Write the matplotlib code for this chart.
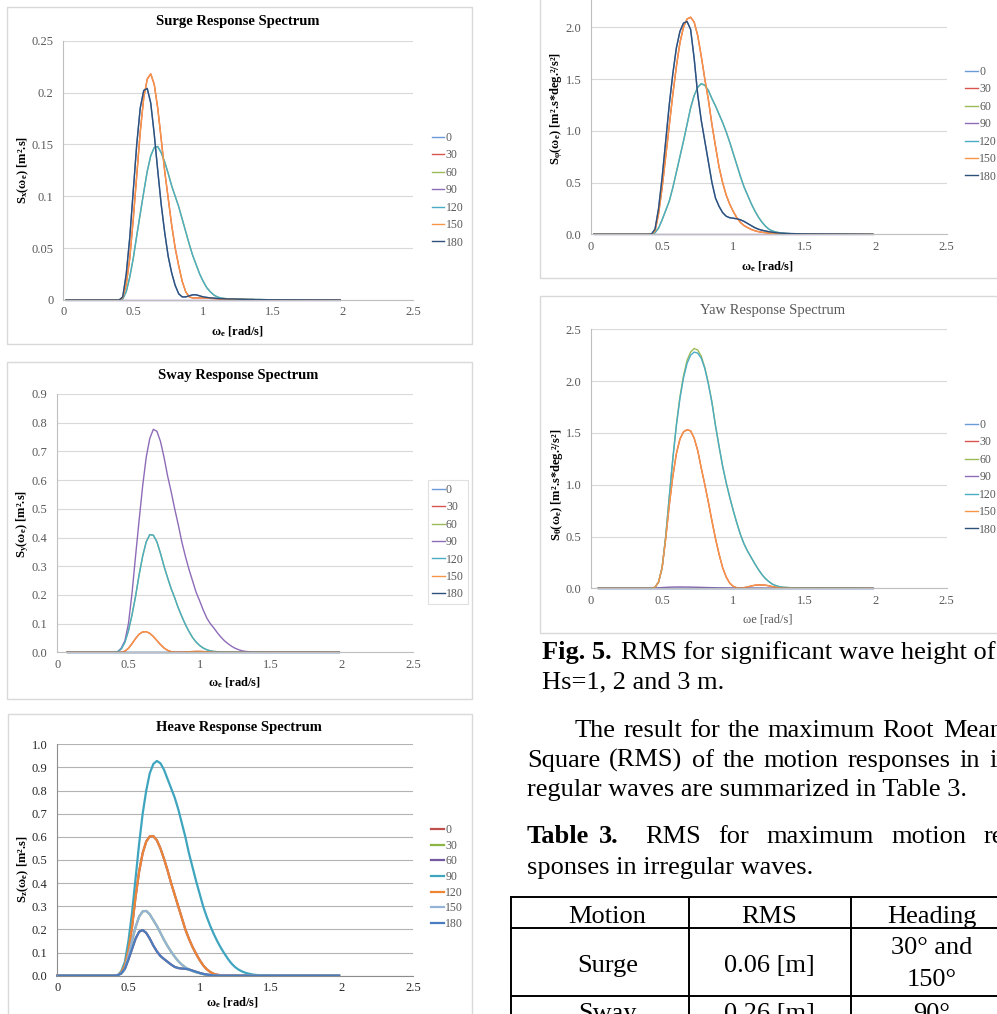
import numpy as np
import matplotlib
matplotlib.use("Agg")
import matplotlib.pyplot as plt
from matplotlib.patches import Rectangle
from matplotlib.lines import Line2D

plt.rcParams["font.family"] = ["Liberation Serif", "DejaVu Serif"]
plt.rcParams["mathtext.fontset"] = "custom"
plt.rcParams["mathtext.rm"] = "Liberation Serif"
plt.rcParams["mathtext.it"] = "Liberation Serif:italic"
plt.rcParams["mathtext.bf"] = "Liberation Serif:bold"

FIG_W, FIG_H = 997, 1014

HEADINGS = ["0", "30", "60", "90", "120", "150", "180"]
X_TICKS = [0, 0.5, 1, 1.5, 2, 2.5]
X_TICK_LABELS = ["0", "0.5", "1", "1.5", "2", "2.5"]

OMEGA = [round(v, 3) for v in np.arange(0.40, 1.401, 0.025)] + [1.5]
OMEGA_END = 1.98
ZERO = [0.0] * len(OMEGA)

# ---- surge [m^2.s]
SURGE_HEAD = [0, 0.003, 0.025, 0.06, 0.105, 0.15, 0.185, 0.202, 0.204, 0.19,
              0.16, 0.125, 0.092, 0.065, 0.042, 0.026, 0.014, 0.006, 0.003, 0.003,
              0.004, 0.005, 0.005, 0.004, 0.003, 0.0025, 0.002, 0.0018, 0.0015, 0.0013,
              0.0012, 0.001, 0.001, 0.0009, 0.0008, 0.0007, 0.0006, 0.0005, 0.0005, 0.0004,
              0.0004, 0.0002]
SURGE_QUARTER = [0, 0.002, 0.015, 0.04, 0.078, 0.12, 0.162, 0.195, 0.213, 0.218,
                 0.208, 0.185, 0.155, 0.124, 0.098, 0.072, 0.05, 0.033, 0.018, 0.008,
                 0.003, 0.002, 0.002, 0.002, 0.002, 0.0018, 0.0016, 0.0014, 0.0012, 0.001,
                 0.001, 0.0009, 0.0008, 0.0007, 0.0006, 0.0005, 0.0005, 0.0004, 0.0004, 0.0003,
                 0.0003, 0.0002]
SURGE_BOW = [0, 0.001, 0.008, 0.022, 0.04, 0.062, 0.083, 0.104, 0.124, 0.139,
             0.147, 0.148, 0.142, 0.133, 0.122, 0.11, 0.1, 0.09, 0.078, 0.066,
             0.054, 0.043, 0.034, 0.025, 0.018, 0.012, 0.008, 0.005, 0.003, 0.002,
             0.0015, 0.0012, 0.001, 0.0009, 0.0008, 0.0007, 0.0006, 0.0005, 0.0005, 0.0004,
             0.0004, 0.0002]

# ---- sway [m^2.s]
SWAY_BEAM = [0, 0.002, 0.015, 0.04, 0.1, 0.205, 0.335, 0.46, 0.58, 0.68,
             0.745, 0.777, 0.77, 0.735, 0.68, 0.615, 0.56, 0.5, 0.445, 0.385,
             0.335, 0.29, 0.25, 0.21, 0.18, 0.148, 0.12, 0.1, 0.085, 0.068,
             0.053, 0.04, 0.03, 0.021, 0.014, 0.009, 0.005, 0.003, 0.002, 0.001,
             0.0008, 0.0003]
SWAY_BOW = [0, 0.002, 0.012, 0.035, 0.075, 0.13, 0.195, 0.27, 0.335, 0.385,
            0.41, 0.408, 0.385, 0.345, 0.3, 0.26, 0.222, 0.19, 0.155, 0.125,
            0.097, 0.073, 0.052, 0.036, 0.024, 0.015, 0.009, 0.005, 0.003, 0.002,
            0.001, 0.0008, 0.0005, 0.0004, 0.0003, 0.0003, 0.0002, 0.0002, 0.0001, 0.0001,
            0.0001, 0]
SWAY_QUARTER = [0, 0, 0, 0.004, 0.014, 0.03, 0.048, 0.063, 0.071, 0.072,
                0.066, 0.055, 0.041, 0.027, 0.015, 0.007, 0.002, 0.0005, 0.0003, 0.0005,
                0.001, 0.002, 0.0025, 0.003, 0.003, 0.0025, 0.002, 0.0012, 0.0006, 0.0003,
                0, 0, 0, 0, 0, 0, 0, 0, 0, 0,
                0, 0]

# ---- heave [m^2.s]
HEAVE_BEAM = [0, 0.002, 0.02, 0.06, 0.15, 0.27, 0.42, 0.57, 0.70, 0.80,
              0.875, 0.915, 0.928, 0.918, 0.89, 0.85, 0.81, 0.77, 0.72, 0.66,
              0.60, 0.53, 0.47, 0.41, 0.355, 0.30, 0.255, 0.215, 0.18, 0.148,
              0.12, 0.095, 0.072, 0.052, 0.037, 0.026, 0.018, 0.012, 0.008, 0.005,
              0.003, 0.001]
HEAVE_60 = [0, 0.002, 0.015, 0.045, 0.11, 0.21, 0.34, 0.45, 0.53, 0.58,
            0.602, 0.603, 0.585, 0.55, 0.505, 0.455, 0.40, 0.35, 0.30, 0.25,
            0.20, 0.16, 0.125, 0.095, 0.068, 0.045, 0.028, 0.016, 0.008, 0.004,
            0.002, 0.001, 0.0008, 0.0005, 0.0003, 0.0002, 0.0002, 0.0001, 0.0001, 0,
            0, 0]
HEAVE_30 = [0, 0.002, 0.01, 0.03, 0.085, 0.15, 0.21, 0.255, 0.278, 0.28,
            0.265, 0.24, 0.215, 0.185, 0.155, 0.128, 0.104, 0.082, 0.063, 0.048,
            0.036, 0.027, 0.02, 0.015, 0.011, 0.007, 0.004, 0.002, 0.001, 0.0005,
            0.0003, 0.0002, 0.0001, 0, 0, 0, 0, 0, 0, 0,
            0, 0]
HEAVE_HEAD = [0, 0.002, 0.01, 0.03, 0.07, 0.115, 0.16, 0.19, 0.197, 0.185,
              0.16, 0.13, 0.105, 0.085, 0.072, 0.06, 0.048, 0.038, 0.033, 0.031,
              0.03, 0.027, 0.022, 0.017, 0.012, 0.008, 0.005, 0.003, 0.001, 0.0005,
              0.0003, 0.0002, 0.0001, 0, 0, 0, 0, 0, 0, 0,
              0, 0]

# ---- roll [m^2.s*deg^2/s^2]
ROLL_HEAD = [0, 0.002, 0.05, 0.25, 0.55, 0.9, 1.25, 1.55, 1.8, 1.96,
             2.04, 2.056, 1.98, 1.7, 1.35, 1.1, 0.9, 0.7, 0.5, 0.35,
             0.27, 0.21, 0.175, 0.16, 0.155, 0.15, 0.14, 0.125, 0.105, 0.085,
             0.065, 0.05, 0.04, 0.032, 0.025, 0.02, 0.015, 0.012, 0.01, 0.008,
             0.007, 0.004]
ROLL_QUARTER = [0, 0.002, 0.03, 0.2, 0.45, 0.75, 1.05, 1.35, 1.62, 1.85,
                2.0, 2.08, 2.097, 2.05, 1.92, 1.72, 1.5, 1.3, 1.06, 0.85,
                0.65, 0.5, 0.38, 0.29, 0.22, 0.16, 0.115, 0.085, 0.065, 0.048,
                0.035, 0.026, 0.02, 0.016, 0.012, 0.01, 0.008, 0.006, 0.005, 0.004,
                0.003, 0.002]
ROLL_BOW = [0, 0.002, 0.015, 0.06, 0.14, 0.23, 0.32, 0.45, 0.6, 0.75,
            0.9, 1.06, 1.22, 1.34, 1.42, 1.455, 1.44, 1.39, 1.31, 1.24,
            1.16, 1.08, 0.99, 0.89, 0.78, 0.67, 0.56, 0.46, 0.38, 0.3,
            0.23, 0.17, 0.12, 0.08, 0.05, 0.032, 0.022, 0.015, 0.01, 0.008,
            0.006, 0.003]

# ---- yaw [m^2.s*deg^2/s^2]
YAW_60 = [0, 0, 0.01, 0.06, 0.2, 0.5, 0.88, 1.25, 1.58, 1.85,
          2.05, 2.2, 2.28, 2.315, 2.3, 2.24, 2.13, 1.98, 1.8, 1.57,
          1.37, 1.18, 1.02, 0.88, 0.75, 0.63, 0.52, 0.43, 0.36, 0.3,
          0.24, 0.185, 0.135, 0.095, 0.065, 0.04, 0.025, 0.015, 0.01, 0.008,
          0.006, 0.004]
YAW_120 = [0, 0, 0.01, 0.06, 0.2, 0.5, 0.88, 1.25, 1.57, 1.83,
           2.03, 2.17, 2.25, 2.28, 2.27, 2.22, 2.12, 1.97, 1.79, 1.57,
           1.37, 1.18, 1.02, 0.88, 0.75, 0.63, 0.52, 0.43, 0.36, 0.3,
           0.24, 0.185, 0.135, 0.095, 0.065, 0.04, 0.025, 0.015, 0.01, 0.008,
           0.006, 0.004]
YAW_QUARTER = [0, 0, 0.01, 0.06, 0.2, 0.48, 0.8, 1.08, 1.3, 1.44,
               1.51, 1.53, 1.52, 1.45, 1.33, 1.16, 1.0, 0.83, 0.65, 0.48,
               0.33, 0.2, 0.11, 0.05, 0.018, 0.005, 0.003, 0.006, 0.013, 0.022,
               0.029, 0.032, 0.032, 0.03, 0.024, 0.016, 0.01, 0.005, 0.003, 0.002,
               0.002, 0.001]
YAW_BEAM = [0, 0.001, 0.003, 0.005, 0.007, 0.009, 0.011, 0.012, 0.013, 0.013,
            0.013, 0.012, 0.012, 0.011, 0.01, 0.009, 0.008, 0.007, 0.006, 0.005,
            0.004, 0.004, 0.003, 0.003, 0.002, 0.002, 0.002, 0.001, 0.001, 0.001,
            0.001, 0.001, 0.001, 0, 0, 0, 0, 0, 0, 0,
            0, 0]

SURGE = {"0": SURGE_HEAD, "30": SURGE_QUARTER, "60": SURGE_BOW, "90": ZERO,
         "120": SURGE_BOW, "150": SURGE_QUARTER, "180": SURGE_HEAD}
SWAY = {"0": ZERO, "30": SWAY_QUARTER, "60": SWAY_BOW, "90": SWAY_BEAM,
        "120": SWAY_BOW, "150": SWAY_QUARTER, "180": ZERO}
HEAVE = {"0": HEAVE_HEAD, "30": HEAVE_30, "60": HEAVE_60, "90": HEAVE_BEAM,
         "120": HEAVE_60, "150": HEAVE_30, "180": HEAVE_HEAD}
ROLL = {"0": ROLL_HEAD, "30": ROLL_QUARTER, "60": ROLL_BOW, "90": ZERO,
        "120": ROLL_BOW, "150": ROLL_QUARTER, "180": ROLL_HEAD}
YAW = {"0": ZERO, "30": YAW_QUARTER, "60": YAW_60, "90": YAW_BEAM,
       "120": YAW_120, "150": YAW_QUARTER, "180": ZERO}

COLORS = {"0": "#6A9BD8", "30": "#D9534F", "60": "#9BBB59", "90": "#8E6BB8",
          "120": "#4BACC6", "150": "#F79646", "180": "#2E4F7A"}
HEAVE_COLORS = {"0": "#C0504D", "30": "#8DB543", "60": "#7458A0", "90": "#3FA5BF",
                "120": "#EE8535", "150": "#95B3D7", "180": "#4A7CC0"}

GRAY = "#595959"


def px_rect(left, top, right, bottom):
    return [left / FIG_W, 1 - bottom / FIG_H, (right - left) / FIG_W, (bottom - top) / FIG_H]


def ptext(fig, x, y, s, **kw):
    return fig.text(x / FIG_W, 1 - y / FIG_H, s, **kw)


def add_frame(fig, left, top, right, bottom):
    fig.add_artist(Rectangle((left / FIG_W, 1 - bottom / FIG_H),
                             (right - left) / FIG_W, (bottom - top) / FIG_H,
                             transform=fig.transFigure, fill=False,
                             ec="#D9D9D9", lw=1.0))


def hline(fig, x0, x1, y, lw=1.4):
    fig.add_artist(Line2D([x0 / FIG_W, x1 / FIG_W], [1 - y / FIG_H, 1 - y / FIG_H],
                          transform=fig.transFigure, color="black", lw=lw))


def vline(fig, x, y0, y1, lw=1.4):
    fig.add_artist(Line2D([x / FIG_W, x / FIG_W], [1 - y0 / FIG_H, 1 - y1 / FIG_H],
                          transform=fig.transFigure, color="black", lw=lw))


def draw_spectrum(fig, rect, curves, colors, start, ymax, ystep, yfmt,
                  lw=1.0, grid="#D9D9D9", spine="#BFBFBF", tick_color=GRAY):
    ax = fig.add_axes(rect)
    handles = []
    for h in HEADINGS:
        x = [start] + OMEGA + [OMEGA_END]
        y = [0.0] + list(curves[h]) + [0.0]
        (line,) = ax.plot(x, y, color=colors[h], lw=lw, clip_on=False,
                          solid_joinstyle="round")
        handles.append(line)
    ax.set_xlim(0, 2.5)
    ax.set_ylim(0, ymax)
    ax.set_xticks(X_TICKS)
    ax.set_xticklabels(X_TICK_LABELS)
    yt = np.round(np.arange(0, ymax + 1e-9, ystep), 3)
    ax.set_yticks(yt)
    ax.set_yticklabels([yfmt(v) for v in yt])
    ax.grid(axis="y", color=grid, lw=0.8)
    ax.set_axisbelow(True)
    for s in ("top", "right"):
        ax.spines[s].set_visible(False)
    for s in ("left", "bottom"):
        ax.spines[s].set_color(spine)
        ax.spines[s].set_linewidth(0.8)
    ax.tick_params(length=0, labelsize=9, labelcolor=tick_color)
    ax.tick_params(axis="y", pad=7)
    ax.tick_params(axis="x", pad=4.5)
    return ax, handles


def add_legend(fig, ax, handles, x, y, spacing, frame=False):
    leg = ax.legend(handles, HEADINGS, loc="upper left",
                    bbox_to_anchor=(x / FIG_W, 1 - y / FIG_H),
                    bbox_transform=fig.transFigure, frameon=frame, fontsize=8.5,
                    labelcolor=GRAY, handlelength=1.1, handletextpad=0.12,
                    labelspacing=spacing, borderaxespad=0,
                    borderpad=0.33 if frame else 0, fancybox=False)
    if frame:
        leg.get_frame().set_edgecolor("#D9D9D9")
        leg.get_frame().set_linewidth(0.8)
    return leg


def fmt_general(v):
    return f"{v:g}"


def fmt_one(v):
    return f"{v:.1f}"


fig = plt.figure(figsize=(FIG_W / 100, FIG_H / 100), dpi=100)

# chart frames
add_frame(fig, 7, 7, 472, 344)
add_frame(fig, 7, 362, 472, 699)
add_frame(fig, 8, 714, 472, 1030)
add_frame(fig, 540, -20, 1020, 278)
add_frame(fig, 540, 296, 1020, 633)

label_kw = dict(fontsize=9, fontweight="bold", ha="center", va="center")
xlab = r"$\mathbf{\omega_e}$ [rad/s]"

# surge
ax, hs = draw_spectrum(fig, px_rect(63.3, 40.7, 413, 300), SURGE, COLORS, 0.02,
                       0.25, 0.05, fmt_general)
add_legend(fig, ax, hs, 431.5, 132, 0.46)
ptext(fig, 238, 22, "Surge Response Spectrum", fontsize=10.5, fontweight="bold",
      ha="center", va="center")
ptext(fig, 238, 331.5, xlab, **label_kw)
ptext(fig, 23, 170, r"$\mathbf{S_x(\omega_e)}$ [m².s]", rotation=90, **label_kw)

# sway
ax, hs = draw_spectrum(fig, px_rect(57.3, 394, 413, 652.3), SWAY, COLORS, 0.066,
                       0.9, 0.1, fmt_one)
add_legend(fig, ax, hs, 427.7, 480, 0.46, frame=True)
ptext(fig, 238, 375.7, "Sway Response Spectrum", fontsize=10.5, fontweight="bold",
      ha="center", va="center")
ptext(fig, 235, 682.7, xlab, **label_kw)
ptext(fig, 23, 524, r"$\mathbf{S_y(\omega_e)}$ [m².s]", rotation=90, **label_kw)

# heave
ax, hs = draw_spectrum(fig, px_rect(57.3, 744.3, 413, 975.7), HEAVE, HEAVE_COLORS,
                       0.0, 1.0, 0.1, fmt_one, lw=1.6, grid="#B3B3B3",
                       spine="#8C8C8C", tick_color="#262626")
add_legend(fig, ax, hs, 431, 824, 0.31)
ptext(fig, 239, 727.7, "Heave Response Spectrum", fontsize=10.5, fontweight="bold",
      ha="center", va="center")
ptext(fig, 233, 1002.7, xlab, **label_kw)
ptext(fig, 23, 869, r"$\mathbf{S_z(\omega_e)}$ [m².s]", rotation=90, **label_kw)

# roll (top of the chart is cut off by the page)
ax, hs = draw_spectrum(fig, px_rect(591, -24.5, 946.7, 234.3), ROLL, COLORS, 0.02,
                       2.5, 0.5, fmt_one)
add_legend(fig, ax, hs, 965, 66, 0.46)
ptext(fig, 768, 266.7, xlab, **label_kw)
ptext(fig, 557, 108, r"$\mathbf{S_\varphi(\omega_e)}$ [m².s*deg.²/s²]", rotation=90,
      **label_kw)

# yaw
ax, hs = draw_spectrum(fig, px_rect(591, 329.3, 946.7, 588.3), YAW, COLORS, 0.05,
                       2.5, 0.5, fmt_one)
add_legend(fig, ax, hs, 965, 419, 0.46)
ptext(fig, 773, 310.7, "Yaw Response Spectrum", fontsize=10.5, color=GRAY,
      ha="center", va="center")
ptext(fig, 768, 619.3, "ωe [rad/s]", fontsize=9, color=GRAY, ha="center", va="center")
ptext(fig, 557, 485, r"$\mathbf{S_\theta(\omega_e)}$ [m².s*deg.²/s²]", rotation=90,
      **label_kw)

# page text
body = dict(fontsize=19, va="baseline", ha="left")
ptext(fig, 541.7, 659.3, "Fig. 5.", fontweight="bold", **body)
ptext(fig, 621, 659.3, "RMS for significant wave height of", **body)
ptext(fig, 541.7, 688.3, "Hs=1, 2 and 3 m.", **body)

for word, x in [("The", 575), ("result", 623.4), ("for", 689.5), ("the", 727.7),
                ("maximum", 767.4), ("Root", 881.8), ("Mean", 943)]:
    ptext(fig, x, 736.7, word, **body)
for word, x in [("Square", 527), ("(RMS)", 609.3), ("of", 691.6), ("the", 722.6),
                ("motion", 763.9), ("responses", 847.7), ("in", 959.3), ("ir-", 989.5)]:
    ptext(fig, x, 766.7, word, **body)
ptext(fig, 527, 795.7, "regular waves are summarized in Table 3.", **body)
ptext(fig, 527, 843.3, "Table", fontweight="bold", **body)
ptext(fig, 599, 843.3, "3.", fontweight="bold", **body)
for word, x in [("RMS", 645), ("for", 718.3), ("maximum", 766.7), ("motion", 891.7),
                ("re-", 983.3)]:
    ptext(fig, x, 843.3, word, **body)
ptext(fig, 527, 874.3, "sponses in irregular waves.", **body)

# table 3
hline(fig, 511, 1000, 896.7)
hline(fig, 511, 1000, 928.3)
hline(fig, 511, 1000, 995.7)
vline(fig, 511, 896.7, 1020)
vline(fig, 689, 896.7, 1020)
vline(fig, 850.7, 896.7, 1020)
cell = dict(fontsize=19, va="baseline", ha="center")
ptext(fig, 607.3, 922.7, "Motion", **cell)
ptext(fig, 769.3, 922.7, "RMS", **cell)
ptext(fig, 931.7, 922.7, "Heading", **cell)
ptext(fig, 607.3, 971.7, "Surge", **cell)
ptext(fig, 769.3, 971.7, "0.06 [m]", **cell)
ptext(fig, 931.7, 954, "30° and", **cell)
ptext(fig, 931.7, 986, "150°", **cell)
ptext(fig, 607.3, 1020, "Sway", **cell)
ptext(fig, 769.3, 1020, "0.26 [m]", **cell)
ptext(fig, 931.7, 1020, "90°", **cell)

fig.savefig("out.png", dpi=100)
